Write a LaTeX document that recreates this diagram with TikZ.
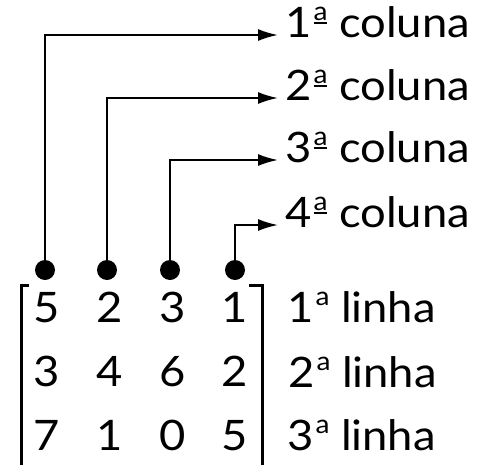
\documentclass[tikz,border=0pt]{standalone}
\usepackage{fontspec}
\setmainfont{Lato}[FakeStretch=1.08]
\usetikzlibrary{arrows.meta}

\tikzset{
    dot/.style={circle, fill, inner sep=0pt, minimum size=20pt},
    colname/.style={anchor=west, inner xsep=7pt, inner ysep=0pt, text height=0.55em, text depth=0.05em},
    rowname/.style={anchor=base west, inner sep=0pt},
    entry/.style={anchor=base, inner sep=0pt},
    link/.style={-{Latex[length=20pt, width=12pt]}, line width=2pt},
    bracket/.style={line width=3pt},
}
% ordinal indicators
\newcommand{\ordcol}{\hspace{2pt}\raisebox{17pt}{\fontsize{26}{26}\selectfont\setbox0\hbox{a}\rlap{\rule[-3.5pt]{\wd0}{1.6pt}}\box0}}
\newcommand{\ordrow}{\hspace{2pt}\raisebox{17pt}{\fontsize{26}{26}\selectfont a}}

\begin{document}
\begin{tikzpicture}[x=1pt, y=-1pt, font=\fontsize{42}{50}\selectfont]
    \useasboundingbox (0,0) rectangle (480,464);

    % Column labels
    \node[colname] (c1) at (278,35) {1\ordcol\ coluna};
    \node[colname] (c2) at (278,98) {2\ordcol\ coluna};
    \node[colname] (c3) at (278,160) {3\ordcol\ coluna};
    \node[colname] (c4) at (278,225) {4\ordcol\ coluna};

    % Column markers
    \node[dot] (d1) at (45,270) {};
    \node[dot] (d2) at (107,270) {};
    \node[dot] (d3) at (170,270) {};
    \node[dot] (d4) at (235,270) {};

    % Arrows
    \draw[link] (d1) |- (c1);
    \draw[link] (d2) |- (c2);
    \draw[link] (d3) |- (c3);
    \draw[link] (d4) |- (c4);

    % Matrix entries
    \foreach \vals [count=\r] in {{5,2,3,1},{3,4,6,2},{7,1,0,5}}
        \foreach \v [count=\c] in \vals
            \node[entry] (m\r\c) at ({-15.7+62.7*\c}, {258+64*\r}) {\v};

    % Brackets
    \draw[bracket] (29,285) -- (21,285) -- (21,470);
    \draw[bracket] (249,285) -- (262,285) -- (262,470);

    % Row labels
    \node[rowname] (r1) at (287,322) {1\ordrow\ linha};
    \node[rowname] (r2) at (288,387) {2\ordrow\ linha};
    \node[rowname] (r3) at (287,450) {3\ordrow\ linha};
\end{tikzpicture}
\end{document}
